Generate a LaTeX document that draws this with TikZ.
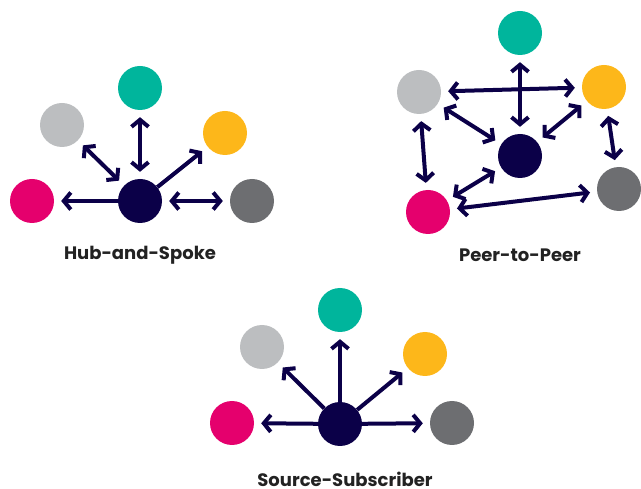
\documentclass[tikz,border=0pt]{standalone}
\usepackage{fontspec}
\setmainfont{Poppins}
\usetikzlibrary{arrows.meta}

\definecolor{hubnavy}{HTML}{0B0048}
\definecolor{peerpink}{HTML}{E5006D}
\definecolor{peerteal}{HTML}{00B59C}
\definecolor{peeryellow}{HTML}{FDB71A}
\definecolor{peerlight}{HTML}{BCBEC0}
\definecolor{peerdark}{HTML}{6D6E71}
\definecolor{labelgray}{HTML}{222222}

\tikzset{
  peer/.style={circle,fill=#1,minimum size=44pt,inner sep=0pt},
  link/.style={draw=hubnavy,line width=4pt,shorten >=7pt,shorten <=7pt},
  feed/.style={draw=hubnavy,line width=4pt,shorten >=7pt},
  title/.style={anchor=base,inner sep=0pt,font=\bfseries\fontsize{18}{21}\selectfont,text=labelgray},
  >={Straight Barb[length=7pt,width=17pt]}
}

\begin{document}
\begin{tikzpicture}[x=1pt,y=-1pt]
\useasboundingbox (0,0) rectangle (641,489);

% Hub-and-spoke
\node[peer=hubnavy] (hsHub) at (140,201) {};
\node[peer=peerpink] (hsPink) at (32,201) {};
\node[peer=peerlight] (hsLight) at (62,125) {};
\node[peer=peerteal] (hsTeal) at (140,88) {};
\node[peer=peeryellow] (hsYellow) at (225,133) {};
\node[peer=peerdark] (hsDark) at (252,201) {};
\node[title] (hsTitle) at (140,259.5) {Hub-and-Spoke};

\draw[feed,->] (hsHub) -- (hsPink);
\draw[feed,->] (hsHub) -- (hsYellow);
\draw[link,<->] (hsHub) -- (hsLight);
\draw[link,<->] (hsHub) -- (hsTeal);
\draw[link,<->] (hsHub) -- (hsDark);

% Peer-to-peer
\node[peer=hubnavy] (ppHub) at (520,156) {};
\node[peer=peerteal] (ppTeal) at (520,33) {};
\node[peer=peerlight] (ppLight) at (419,92) {};
\node[peer=peeryellow] (ppYellow) at (604,87) {};
\node[peer=peerpink] (ppPink) at (428,212) {};
\node[peer=peerdark] (ppDark) at (619,189) {};
\node[title] (ppTitle) at (520,262) {Peer-to-Peer};

\draw[link,<->] (ppTeal) -- (ppHub);
\draw[link,<->] (ppLight) -- (ppYellow);
\draw[link,<->] (ppLight) -- (ppHub);
\draw[link,<->] (ppYellow) -- (ppHub);
\draw[link,<->] (ppLight) -- (ppPink);
\draw[link,<->] (ppYellow) -- (ppDark);
\draw[link,<->] (ppHub) -- (ppPink);
\draw[link,<->] (ppPink) -- (ppDark);

% Source-subscriber
\node[peer=hubnavy] (ssHub) at (340,424) {};
\node[peer=peerteal] (ssTeal) at (340,310) {};
\node[peer=peerlight] (ssLight) at (262,347) {};
\node[peer=peeryellow] (ssYellow) at (425,354) {};
\node[peer=peerpink] (ssPink) at (232,423) {};
\node[peer=peerdark] (ssDark) at (452,423) {};
\node[title] (ssTitle) at (345,486) {Source-Subscriber};

\foreach \target in {ssTeal,ssLight,ssYellow,ssPink,ssDark}
  \draw[feed,->] (ssHub) -- (\target);
\end{tikzpicture}
\end{document}
